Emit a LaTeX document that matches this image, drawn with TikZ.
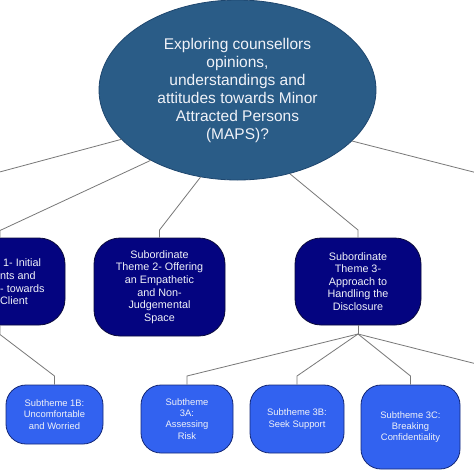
\documentclass[tikz,border=0pt]{standalone}
\usepackage{fontspec}
\setmainfont{Liberation Sans}
\usetikzlibrary{shapes.geometric}
\definecolor{rootfill}{RGB}{42,92,135}
\definecolor{rootline}{RGB}{30,70,110}
\definecolor{themefill}{RGB}{4,4,128}
\definecolor{themeline}{RGB}{10,10,60}
\definecolor{subfill}{RGB}{50,98,240}
\definecolor{subline}{RGB}{20,40,120}
\definecolor{conn}{RGB}{120,120,120}
\definecolor{txt}{RGB}{240,242,248}
\tikzset{
  rootnode/.style={ellipse, draw=rootline, line width=0.8pt, fill=rootfill, inner sep=0pt,
    minimum width=277pt, minimum height=180pt, text=txt, align=center,
    font=\fontsize{15.5}{18}\selectfont},
  themebox/.style={rectangle, rounded corners=26pt, draw=themeline, line width=0.8pt, fill=themefill,
    inner sep=0pt, text=txt, align=center, font=\fontsize{10.8}{12.6}\selectfont},
  subbox/.style={rectangle, rounded corners=20pt, draw=subline, line width=0.8pt, fill=subfill,
    inner sep=0pt, text=txt, align=center, font=\fontsize{9.4}{11.2}\selectfont},
  connector/.style={draw=conn, line width=0.8pt},
}
\begin{document}
\begin{tikzpicture}[x=1pt,y=-1pt]
\useasboundingbox (0,0) rectangle (474,474);
\clip (0,0) rectangle (474,474);
\fill[white] (0,0) rectangle (474,474);

% junction coordinates
\coordinate (e1) at (-60,188);
\coordinate (b1) at (0,230.5);
\coordinate (b2) at (159.5,230);
\coordinate (b3) at (358,230);
\coordinate (e5) at (540,189);
\coordinate (j1) at (0,334.5);
\coordinate (j3) at (358,334);
\coordinate (c1b) at (54.5,376);
\coordinate (c3a) at (187,376);
\coordinate (c3b) at (297,376);
\coordinate (c3c) at (410.5,376);
\coordinate (e3d) at (540,380);

% nodes
\node[rootnode] (root) at (237.5,90) {Exploring counsellors\\opinions,\\understandings and\\attitudes towards Minor\\Attracted Persons\\(MAPS)?};
\node[themebox, minimum width=130pt, minimum height=87pt] (t1) at (0,281.5) {};
\node[anchor=west, text=txt, align=left, inner sep=0pt, font=\fontsize{10.8}{12.6}\selectfont] (t1text) at (0,282) {\hspace{3pt}1- Initial\\nts and\\- towards\\Client};
\node[themebox, minimum width=131pt, minimum height=98pt] (t2) at (159.5,287) {Subordinate\\Theme 2- Offering\\an Empathetic\\and Non-\\Judgemental\\Space};
\node[themebox, minimum width=126pt, minimum height=87pt] (t3) at (358,281.5) {Subordinate\\Theme 3-\\Approach to\\Handling the\\Disclosure};
\node[subbox, minimum width=97pt, minimum height=59pt] (s1b) at (54.5,414.5) {Subtheme 1B:\\Uncomfortable\\and Worried};
\node[subbox, minimum width=92pt, minimum height=68pt] (s3a) at (187,419) {Subtheme\\3A:\\Assessing\\Risk};
\node[subbox, minimum width=94pt, minimum height=68pt] (s3b) at (297,419) {Subtheme 3B:\\Seek Support};
\node[subbox, minimum width=99pt, minimum height=84pt] (s3c) at (410.5,427) {Subtheme 3C:\\Breaking\\Confidentiality};

% connectors
\draw[connector] (root.203.4) -- (e1);
\draw[connector] (root.219.1) -- (b1) -- (t1.north);
\draw[connector] (root.247.8) -- (b2) -- (t2.north);
\draw[connector] (root.302.3) -- (b3) -- (t3.north);
\draw[connector] (root.336.6) -- (e5);
\draw[connector] (t1.south) -- (j1) -- (c1b) -- (s1b.north);
\draw[connector] (t3.south) -- (j3);
\draw[connector] (j3) -- (c3a) -- (s3a.north);
\draw[connector] (j3) -- (c3b) -- (s3b.north);
\draw[connector] (j3) -- (c3c) -- (s3c.north);
\draw[connector] (j3) -- (e3d);
\end{tikzpicture}
\end{document}
